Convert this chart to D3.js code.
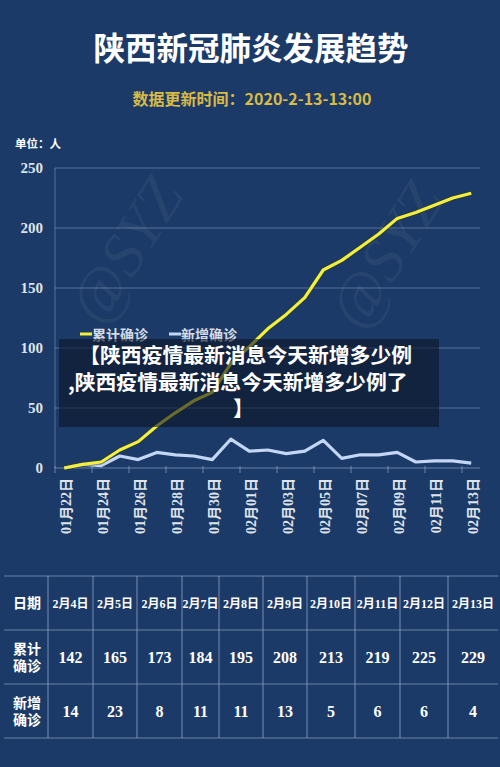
<!DOCTYPE html>
<html><head><meta charset="utf-8">
<script src="https://cdn.jsdelivr.net/npm/d3@7"></script>
<style>
html,body{margin:0;padding:0;background:#1c3a67;}
svg{display:block;}
</style></head>
<body>
<script>
// ---- data ----
const dates = ["01月22日","01月23日","01月24日","01月25日","01月26日","01月27日","01月28日","01月29日","01月30日","01月31日",
  "02月01日","02月02日","02月03日","02月04日","02月05日","02月06日","02月07日","02月08日","02月09日","02月10日","02月11日","02月12日","02月13日"];
const cumulative = [0,3,5,15,22,35,46,56,63,87,101,116,128,142,165,173,184,195,208,213,219,225,229];
const newCases   = [0,3,2,10,7,13,11,10,7,24,14,15,12,14,23,8,11,11,13,5,6,6,4];
const yTicks = [0,50,100,150,200,250];
const seriesNames = ["累计确诊","新增确诊"];
const tableDates = ["2月4日","2月5日","2月6日","2月7日","2月8日","2月9日","2月10日","2月11日","2月12日","2月13日"];
const tableRowHeads = [["日期"],["累计","确诊"],["新增","确诊"]];
const titleText = "陕西新冠肺炎发展趋势";
const subtitleText = "数据更新时间：2020-2-13-13:00";
const unitText = "单位：人";
const overlayLines = ["【陕西疫情最新消息今天新增多少例", ",陕西疫情最新消息今天新增多少例了", "】"];

// ---- layout ----
const W = 500, H = 767;
const svg = d3.select("body").append("svg").attr("width", W).attr("height", H);
svg.append("rect").attr("width", W).attr("height", H).attr("fill", "#1c3a67");

const SANS = "'Noto Sans CJK SC', 'Noto Sans', sans-serif";
const SERIF = "'Liberation Serif', 'DejaVu Serif', 'Noto Sans CJK SC', serif";

// watermarks (faint)
const wm = [[125,250],[385,255]];
svg.append("g").selectAll("text").data(wm).join("text")
  .attr("transform", d => `translate(${d[0]},${d[1]}) rotate(-58)`)
  .attr("text-anchor","middle").attr("dy","0.35em")
  .attr("font-family", SERIF).attr("font-style","italic").attr("font-size", 62)
  .attr("fill", "#ffffff").attr("fill-opacity", 0.05).text("@SYZ");

// title
svg.append("text").attr("x", 251).attr("y", 60).attr("text-anchor","middle")
  .attr("font-family", SANS).attr("font-weight", 700).attr("font-size", 31.5)
  .attr("fill", "#ffffff").text(titleText);
svg.append("text").attr("x", 252).attr("y", 105).attr("text-anchor","middle")
  .attr("font-family", SANS).attr("font-weight", 700).attr("font-size", 16)
  .attr("fill", "#d9ba45").text(subtitleText);
svg.append("text").attr("x", 15).attr("y", 148)
  .attr("font-family", SANS).attr("font-weight", 700).attr("font-size", 11.5)
  .attr("fill", "#ffffff").text(unitText);

// scales
const x = d3.scaleBand().domain(dates).range([55, 480.5]).padding(0);
const y = d3.scaleLinear().domain([0, 250]).range([468, 168]);
const cx = d => x(d) + x.bandwidth() / 2;

// gridlines
svg.append("g").selectAll("line").data(yTicks.filter(t => t > 0)).join("line")
  .attr("x1", 55).attr("x2", 480).attr("y1", d => y(d)).attr("y2", d => y(d))
  .attr("stroke", "#9fb3d3").attr("stroke-opacity", 0.45).attr("stroke-width", 1);
svg.append("line").attr("x1", 55).attr("x2", 55).attr("y1", y(250)).attr("y2", y(0))
  .attr("stroke", "#9fb3d3").attr("stroke-opacity", 0.45);
svg.append("line").attr("x1", 55).attr("x2", 480).attr("y1", y(0)).attr("y2", y(0))
  .attr("stroke", "#9fb3d3").attr("stroke-opacity", 0.6);

// y axis labels via d3 axis
const yAxis = svg.append("g").attr("transform", "translate(55,0)")
  .call(d3.axisLeft(y).tickValues(yTicks).tickSize(0).tickPadding(12));
yAxis.select(".domain").remove();
yAxis.selectAll("text").attr("font-family", SERIF).attr("font-weight", 700)
  .attr("font-size", 15).attr("fill", "#dfe4ec");

// x axis ticks at band boundaries every 2 days, labels at band centers
const tickDates = dates.filter((d, i) => i % 2 === 0);
svg.append("g").selectAll("line").data(tickDates).join("line")
  .attr("x1", d => x(d)).attr("x2", d => x(d)).attr("y1", y(0) - 2).attr("y2", y(0) + 5)
  .attr("stroke", "#9fb3d3").attr("stroke-opacity", 0.6);
svg.append("g").selectAll("text").data(tickDates).join("text")
  .attr("transform", d => `translate(${cx(d) + 1.5},478) rotate(-90)`)
  .attr("text-anchor", "end").attr("dy", "0.35em")
  .attr("font-family", SERIF).attr("font-weight", 700).attr("font-size", 14)
  .attr("fill", "#dfe4ec").text(d => d);

// lines
const lineGen = d3.line().x((d, i) => cx(dates[i])).y(d => y(d));
svg.append("path").datum(newCases).attr("d", lineGen).attr("fill", "none")
  .attr("stroke", "#c3d6f4").attr("stroke-width", 3.2).attr("stroke-linejoin", "round");
svg.append("path").datum(cumulative).attr("d", lineGen).attr("fill", "none")
  .attr("stroke", "#2a3a30").attr("stroke-opacity", 0.5).attr("stroke-width", 5).attr("stroke-linejoin", "round");
svg.append("path").datum(cumulative).attr("d", lineGen).attr("fill", "none")
  .attr("stroke", "#f3ef3c").attr("stroke-width", 3.2).attr("stroke-linejoin", "round");

// legend
const legColors = ["#f3ef3c", "#c3d6f4"];
const legX = [80, 169];
const leg = svg.append("g").selectAll("g").data(seriesNames).join("g")
  .attr("transform", (d, i) => `translate(${legX[i]},334)`);
leg.append("line").attr("x1", 0).attr("x2", 12).attr("stroke", (d, i) => legColors[i]).attr("stroke-width", 3);
leg.append("text").attr("x", 12).attr("y", 5.5).attr("font-family", SANS).attr("font-weight", 700)
  .attr("font-size", 14).attr("fill", "#d5dbe4").text(d => d);

// overlay box with caption
svg.append("rect").attr("x", 59).attr("y", 339).attr("width", 380).attr("height", 88)
  .attr("fill", "#0b1426").attr("fill-opacity", 0.6);
const ovX = [412, 68, 233];
const ovAnchor = ["end", "start", "start"];
const ovY = [363, 390, 416];
svg.append("g").selectAll("text").data(overlayLines).join("text")
  .attr("x", (d, i) => ovX[i]).attr("y", (d, i) => ovY[i]).attr("text-anchor", (d, i) => ovAnchor[i])
  .attr("font-family", SANS).attr("font-weight", 700).attr("font-size", 20.8)
  .attr("fill", "#ffffff").text(d => d);

// table
const colEdges = [4, 48, 93, 137, 182, 219, 263, 307, 355, 400, 448, 498];
const rowEdges = [576, 630, 684, 738];
const tg = svg.append("g");
tg.selectAll("line.h").data(rowEdges).join("line").attr("class", "h")
  .attr("x1", colEdges[0]).attr("x2", colEdges[colEdges.length - 1])
  .attr("y1", d => d).attr("y2", d => d)
  .attr("stroke", "#a9bcda").attr("stroke-opacity", 0.55).attr("stroke-width", 1.2);
tg.selectAll("line.v").data(colEdges.slice(1, -1)).join("line").attr("class", "v")
  .attr("x1", d => d).attr("x2", d => d).attr("y1", rowEdges[0]).attr("y2", rowEdges[3])
  .attr("stroke", "#a9bcda").attr("stroke-opacity", 0.55).attr("stroke-width", 1.2);

const colMid = i => (colEdges[i] + colEdges[i + 1]) / 2;
const rowMid = r => (rowEdges[r] + rowEdges[r + 1]) / 2;
tableRowHeads.forEach((lines, r) => {
  const n = lines.length;
  const t = tg.append("text").attr("text-anchor", "middle")
    .attr("font-family", SANS).attr("font-weight", 700).attr("font-size", 14)
    .attr("fill", "#ffffff");
  lines.forEach((s, k) => {
    t.append("tspan").attr("x", colMid(0) + 1)
      .attr("y", rowMid(r) + (k - (n - 1) / 2) * 17).attr("dy", "0.38em").text(s);
  });
});
const first = dates.length - tableDates.length;
const tableCum = cumulative.slice(first);
const tableNew = newCases.slice(first);
tg.selectAll("text.d").data(tableDates).join("text").attr("class", "d")
  .attr("x", (d, i) => colMid(i + 1)).attr("y", rowMid(0)).attr("dy", "0.38em")
  .attr("text-anchor", "middle").attr("font-family", SERIF).attr("font-weight", 700)
  .attr("font-size", 12).attr("fill", "#ffffff").text(d => d);
tg.selectAll("text.c").data(tableCum).join("text").attr("class", "c")
  .attr("x", (d, i) => colMid(i + 1)).attr("y", rowMid(1)).attr("dy", "0.35em")
  .attr("text-anchor", "middle").attr("font-family", SERIF).attr("font-weight", 700)
  .attr("font-size", 16).attr("fill", "#ffffff").text(d => d);
tg.selectAll("text.n").data(tableNew).join("text").attr("class", "n")
  .attr("x", (d, i) => colMid(i + 1)).attr("y", rowMid(2)).attr("dy", "0.35em")
  .attr("text-anchor", "middle").attr("font-family", SERIF).attr("font-weight", 700)
  .attr("font-size", 16).attr("fill", "#ffffff").text(d => d);
</script>
</body></html>
